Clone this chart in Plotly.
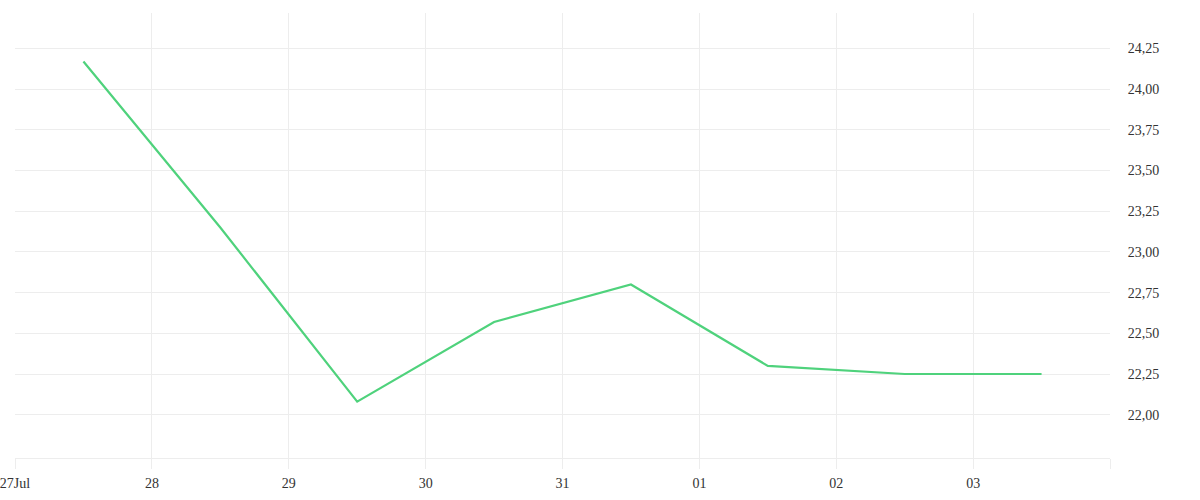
import plotly.graph_objects as go

dates = ["2024-07-27 12:00", "2024-07-28 12:00", "2024-07-29 12:00", "2024-07-30 12:00",
         "2024-07-31 12:00", "2024-08-01 12:00", "2024-08-02 12:00", "2024-08-03 12:00"]
values = [24.17, 23.15, 22.08, 22.57, 22.80, 22.30, 22.25, 22.25]

tick_dates = ["2024-07-27", "2024-07-28", "2024-07-29", "2024-07-30", "2024-07-31",
              "2024-08-01", "2024-08-02", "2024-08-03", "2024-08-04"]
tick_labels = ["27Jul", "28", "29", "30", "31", "01", "02", "03", ""]
y_ticks = [22.00, 22.25, 22.50, 22.75, 23.00, 23.25, 23.50, 23.75, 24.00, 24.25]

GRID = "#ededed"
FONT = "Liberation Serif"

fig = go.Figure()
fig.add_trace(go.Scatter(
    x=dates, y=values, mode="lines",
    line=dict(color="#4fd27c", width=2.2),
    showlegend=False, hoverinfo="x+y",
))

fig.update_layout(
    width=1200, height=500,
    margin=dict(l=15, r=90, t=13, b=42, autoexpand=False),
    paper_bgcolor="white", plot_bgcolor="white",
    separators=",.",
    font=dict(family=FONT, size=14, color="#333333"),
)
fig.update_xaxes(
    type="date", automargin=False,
    range=["2024-07-27", "2024-08-04"],
    tickvals=tick_dates, ticktext=tick_labels,
    showgrid=True, gridcolor=GRID, gridwidth=1,
    ticks="outside", ticklen=10, tickcolor=GRID, tickwidth=1,
    showline=True, linecolor=GRID, linewidth=1,
    zeroline=False,
    ticklabelstandoff=2, ticklabeloverflow="allow",
    tickfont=dict(family=FONT, size=14, color="#333333"),
)
fig.update_yaxes(
    side="right", automargin=False,
    range=[21.734, 24.468],
    tickvals=y_ticks, tickformat=".2f",
    showgrid=True, gridcolor=GRID, gridwidth=1,
    ticks="outside", ticklen=14, tickcolor="rgba(0,0,0,0)",
    showline=False, zeroline=False, ticklabeloverflow="allow",
    tickfont=dict(family=FONT, size=14, color="#333333"),
)

fig.write_html(
    "out.html",
    config={"displayModeBar": False},
    post_script="document.body.style.margin='0';document.body.style.overflow='hidden';",
)
